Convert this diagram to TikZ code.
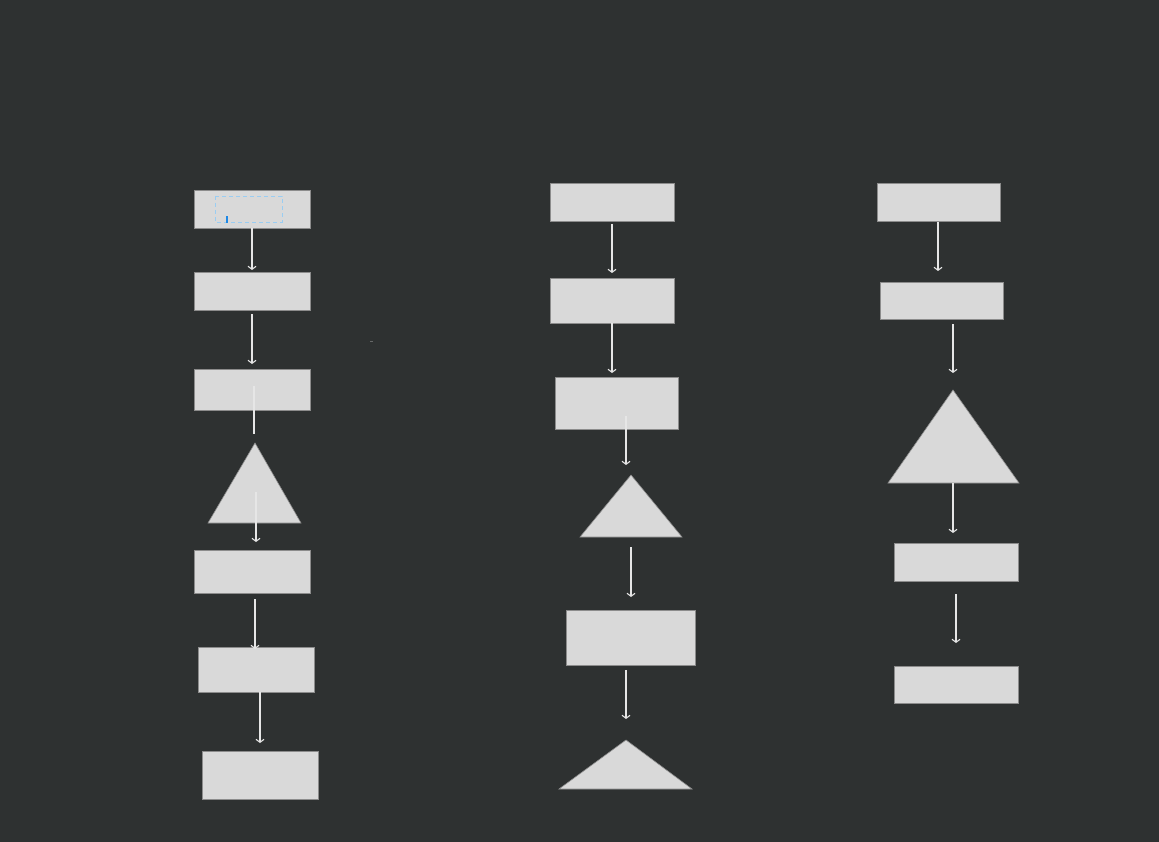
\documentclass[tikz,border=0pt]{standalone}
\usetikzlibrary{arrows.meta}
\definecolor{bg}{HTML}{2E3131}
\definecolor{boxfill}{HTML}{D9D9D9}
\definecolor{boxline}{HTML}{8C8C8C}
\definecolor{arr}{HTML}{E6E6E6}
\definecolor{selblue}{HTML}{9ACDF2}
\definecolor{curblue}{HTML}{1E88E5}
\tikzset{
  boxnode/.style={draw=boxline, line width=0.8pt, fill=boxfill, inner sep=0pt, anchor=north west},
  trinode/.style={draw=boxline, line width=0.6pt, fill=boxfill},
  flowarrow/.style={draw=arr, line width=1.1pt, -{Straight Barb[length=3pt,width=8pt]}},
  flowline/.style={draw=arr, line width=1.1pt},
}
\newcommand{\bx}[5]{\node[boxnode, minimum width=#4pt, minimum height=#5pt] (#1) at (#2,#3) {};}
\begin{document}
\begin{tikzpicture}[x=1pt,y=-1pt]
\fill[bg] (0,0) rectangle (1159,842);
\useasboundingbox (0,0) rectangle (1159,842);

% ---------- column 1 ----------
\bx{a1}{194}{190}{116}{38}
\draw[selblue, dashed, dash pattern=on 4pt off 3pt, line width=0.9pt] (215,196) rectangle (282,222);
\fill[curblue] (225.5,216.5) rectangle (227.5,223);
\bx{a2}{194}{272}{116}{38}
\bx{a3}{194}{369}{116}{41}
\path[trinode] (255,443) coordinate (a4) -- (301,523) -- (208,523) -- cycle;
\bx{a5}{194}{550}{116}{43}
\bx{a6}{198}{647}{116}{45}
\bx{a7}{202}{751}{116}{48}

\coordinate (a1s) at (252,228); \coordinate (a2n) at (252,270);
\coordinate (a2s) at (252,314); \coordinate (a3n) at (252,364);
\coordinate (a3m) at (254,386); \coordinate (a4n) at (254,434);
\coordinate (a4m) at (256,492); \coordinate (a5n) at (256,542);
\coordinate (a5s) at (255,599); \coordinate (a6n) at (255,649);
\coordinate (a6s) at (260,692); \coordinate (a7n) at (260,743);
\draw[flowarrow] (a1s) -- (a2n);
\draw[flowarrow] (a2s) -- (a3n);
\draw[flowline] (a3m) -- (a4n);
\draw[flowarrow] (a4m) -- (a5n);
\draw[flowarrow] (a5s) -- (a6n);
\draw[flowarrow] (a6s) -- (a7n);

% tiny stray mark
\draw[color=boxline!60!bg, line width=0.6pt] (370,341) -- (373,341);

% ---------- column 2 ----------
\bx{b1}{550}{183}{124}{38}
\bx{b2}{550}{278}{124}{45}
\bx{b3}{555}{377}{123}{52}
\path[trinode] (631,475) coordinate (b4) -- (682,537) -- (580,537) -- cycle;
\bx{b5}{566}{610}{129}{55}
\path[trinode] (626,740) coordinate (b6) -- (692,789) -- (559,789) -- cycle;

\coordinate (b1s) at (612,224); \coordinate (b2n) at (612,273);
\coordinate (b2s) at (612,323); \coordinate (b3n) at (612,373);
\coordinate (b3m) at (626,416); \coordinate (b4n) at (626,465);
\coordinate (b4s) at (631,547); \coordinate (b5n) at (631,597);
\coordinate (b5s) at (626,670); \coordinate (b6n) at (626,719);
\draw[flowarrow] (b1s) -- (b2n);
\draw[flowarrow] (b2s) -- (b3n);
\draw[flowarrow] (b3m) -- (b4n);
\draw[flowarrow] (b4s) -- (b5n);
\draw[flowarrow] (b5s) -- (b6n);

% ---------- column 3 ----------
\bx{c1}{877}{183}{123}{38}
\bx{c2}{880}{282}{123}{37}
\path[trinode] (953,390) coordinate (c3) -- (1019,483) -- (888,483) -- cycle;
\bx{c4}{894}{543}{124}{38}
\bx{c5}{894}{666}{124}{37}

\coordinate (c1s) at (938,222); \coordinate (c2n) at (938,271);
\coordinate (c2s) at (953,324); \coordinate (c3n) at (953,373);
\coordinate (c3s) at (953,483); \coordinate (c4n) at (953,533);
\coordinate (c4s) at (956,594); \coordinate (c5n) at (956,643);
\draw[flowarrow] (c1s) -- (c2n);
\draw[flowarrow] (c2s) -- (c3n);
\draw[flowarrow] (c3s) -- (c4n);
\draw[flowarrow] (c4s) -- (c5n);
\end{tikzpicture}
\end{document}
